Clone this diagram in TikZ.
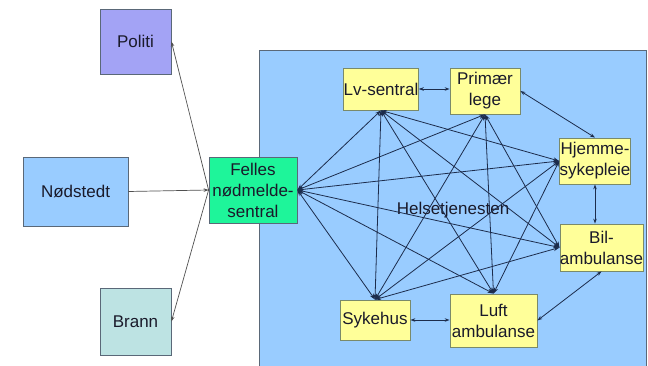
\documentclass[tikz,border=0pt]{standalone}
\usepackage{fontspec}
\setmainfont{Liberation Sans}
\usetikzlibrary{arrows.meta}
\definecolor{polc}{HTML}{A3A3F5}
\definecolor{nodc}{HTML}{99CCFF}
\definecolor{branc}{HTML}{BDE3E3}
\definecolor{fellc}{HTML}{1EF59A}
\definecolor{bigc}{HTML}{99CCFF}
\definecolor{yelc}{HTML}{FFFF99}
\definecolor{bordc}{HTML}{5A6878}
\definecolor{ybord}{HTML}{7A8A6A}
\definecolor{linec}{HTML}{1C2C4C}
\definecolor{grayl}{HTML}{505050}
\definecolor{txtc}{HTML}{1A1A2A}
\tikzset{
  box/.style={draw=bordc, line width=0.8pt, inner sep=0pt, align=center,
    font=\fontsize{17}{21}\selectfont, text=txtc},
  ybox/.style={box, fill=yelc, draw=ybord},
  hub/.style={draw=linec, line width=0.8pt, {Stealth[length=6pt,width=4pt]}-{Stealth[length=6pt,width=4pt]}},
  dbl/.style={draw=linec, line width=0.8pt, {Stealth[length=5pt,width=3.5pt]}-{Stealth[length=5pt,width=3.5pt]}},
  side/.style={draw=grayl, line width=0.7pt, -{Stealth[length=5pt,width=3.5pt]}}
}
\begin{document}
\begin{tikzpicture}[x=1pt,y=-1pt]
\useasboundingbox (0,0) rectangle (648,366);
\fill[white] (0,0) rectangle (648,366);
% big rectangle
\draw[draw=bordc, fill=bigc, line width=0.8pt] (259,400) -- (259,50) -- (646,50) -- (646,400);
\node[box, fill=polc, minimum width=71pt, minimum height=65pt] (pol) at (135.5,41.5) {Politi};
\node[box, fill=nodc, minimum width=105pt, minimum height=69pt] (nod) at (75.5,191.5) {Nødstedt};
\node[box, fill=branc, minimum width=71pt, minimum height=67pt] (bra) at (135.5,321.5) {Brann};
\node[box, fill=fellc, minimum width=88pt, minimum height=66pt] (fel) at (253,190) {Felles\\nødmelde-\\sentral};
\node[ybox, minimum width=70pt, minimum height=42pt] (lv) at (381,89) {Lv-sentral};
\node[ybox, minimum width=70pt, minimum height=46pt] (pri) at (485,91) {Primær\\lege};
\node[ybox, minimum width=70pt, minimum height=46pt] (hje) at (595,161) {Hjemme-\\sykepleie};
\node[ybox, minimum width=81pt, minimum height=47pt] (bil) at (601.5,247.5) {Bil-\\ambulanse};
\node[ybox, minimum width=70pt, minimum height=40pt] (syk) at (375,320) {Sykehus};
\node[ybox, minimum width=87pt, minimum height=53pt] (luf) at (493.5,320.5) {Luft\\ambulanse};
\node[font=\fontsize{17}{21}\selectfont, text=txtc] (hel) at (453,210) {Helsetjenesten};
% left arrows
\draw[side] (fel.west) -- (pol.east);
\draw[side] (nod.east) -- (fel.west);
\draw[side] (fel.west) -- (bra.east);
% hub lines
\draw[hub] (fel.east) -- (lv.south);
\draw[hub] (fel.east) -- (pri.south);
\draw[hub] (fel.east) -- (hje.west);
\draw[hub] (fel.east) -- (bil.west);
\draw[hub] (fel.east) -- (luf.north);
\draw[hub] (fel.east) -- (syk.north);
\draw[hub] (lv.south) -- (hje.west);
\draw[hub] (lv.south) -- (bil.west);
\draw[hub] (lv.south) -- (luf.north);
\draw[hub] (lv.south) -- (syk.north);
\draw[hub] (pri.south) -- (syk.north);
\draw[hub] (pri.south) -- (luf.north);
\draw[hub] (pri.south) -- (bil.west);
\draw[hub] (hje.west) -- (syk.north);
\draw[hub] (hje.west) -- (luf.north);
\draw[hub] (bil.west) -- (syk.north);
% double arrows between neighbours
\draw[dbl] (lv.east) -- (pri.west |- lv.east);
\draw[dbl] (pri.east) -- (hje.north);
\draw[dbl] (hje.south) -- (bil.north -| hje.south);
\draw[dbl] (bil.south) -- (luf.east);
\draw[dbl] (syk.east) -- (luf.west |- syk.east);
\end{tikzpicture}
\end{document}
